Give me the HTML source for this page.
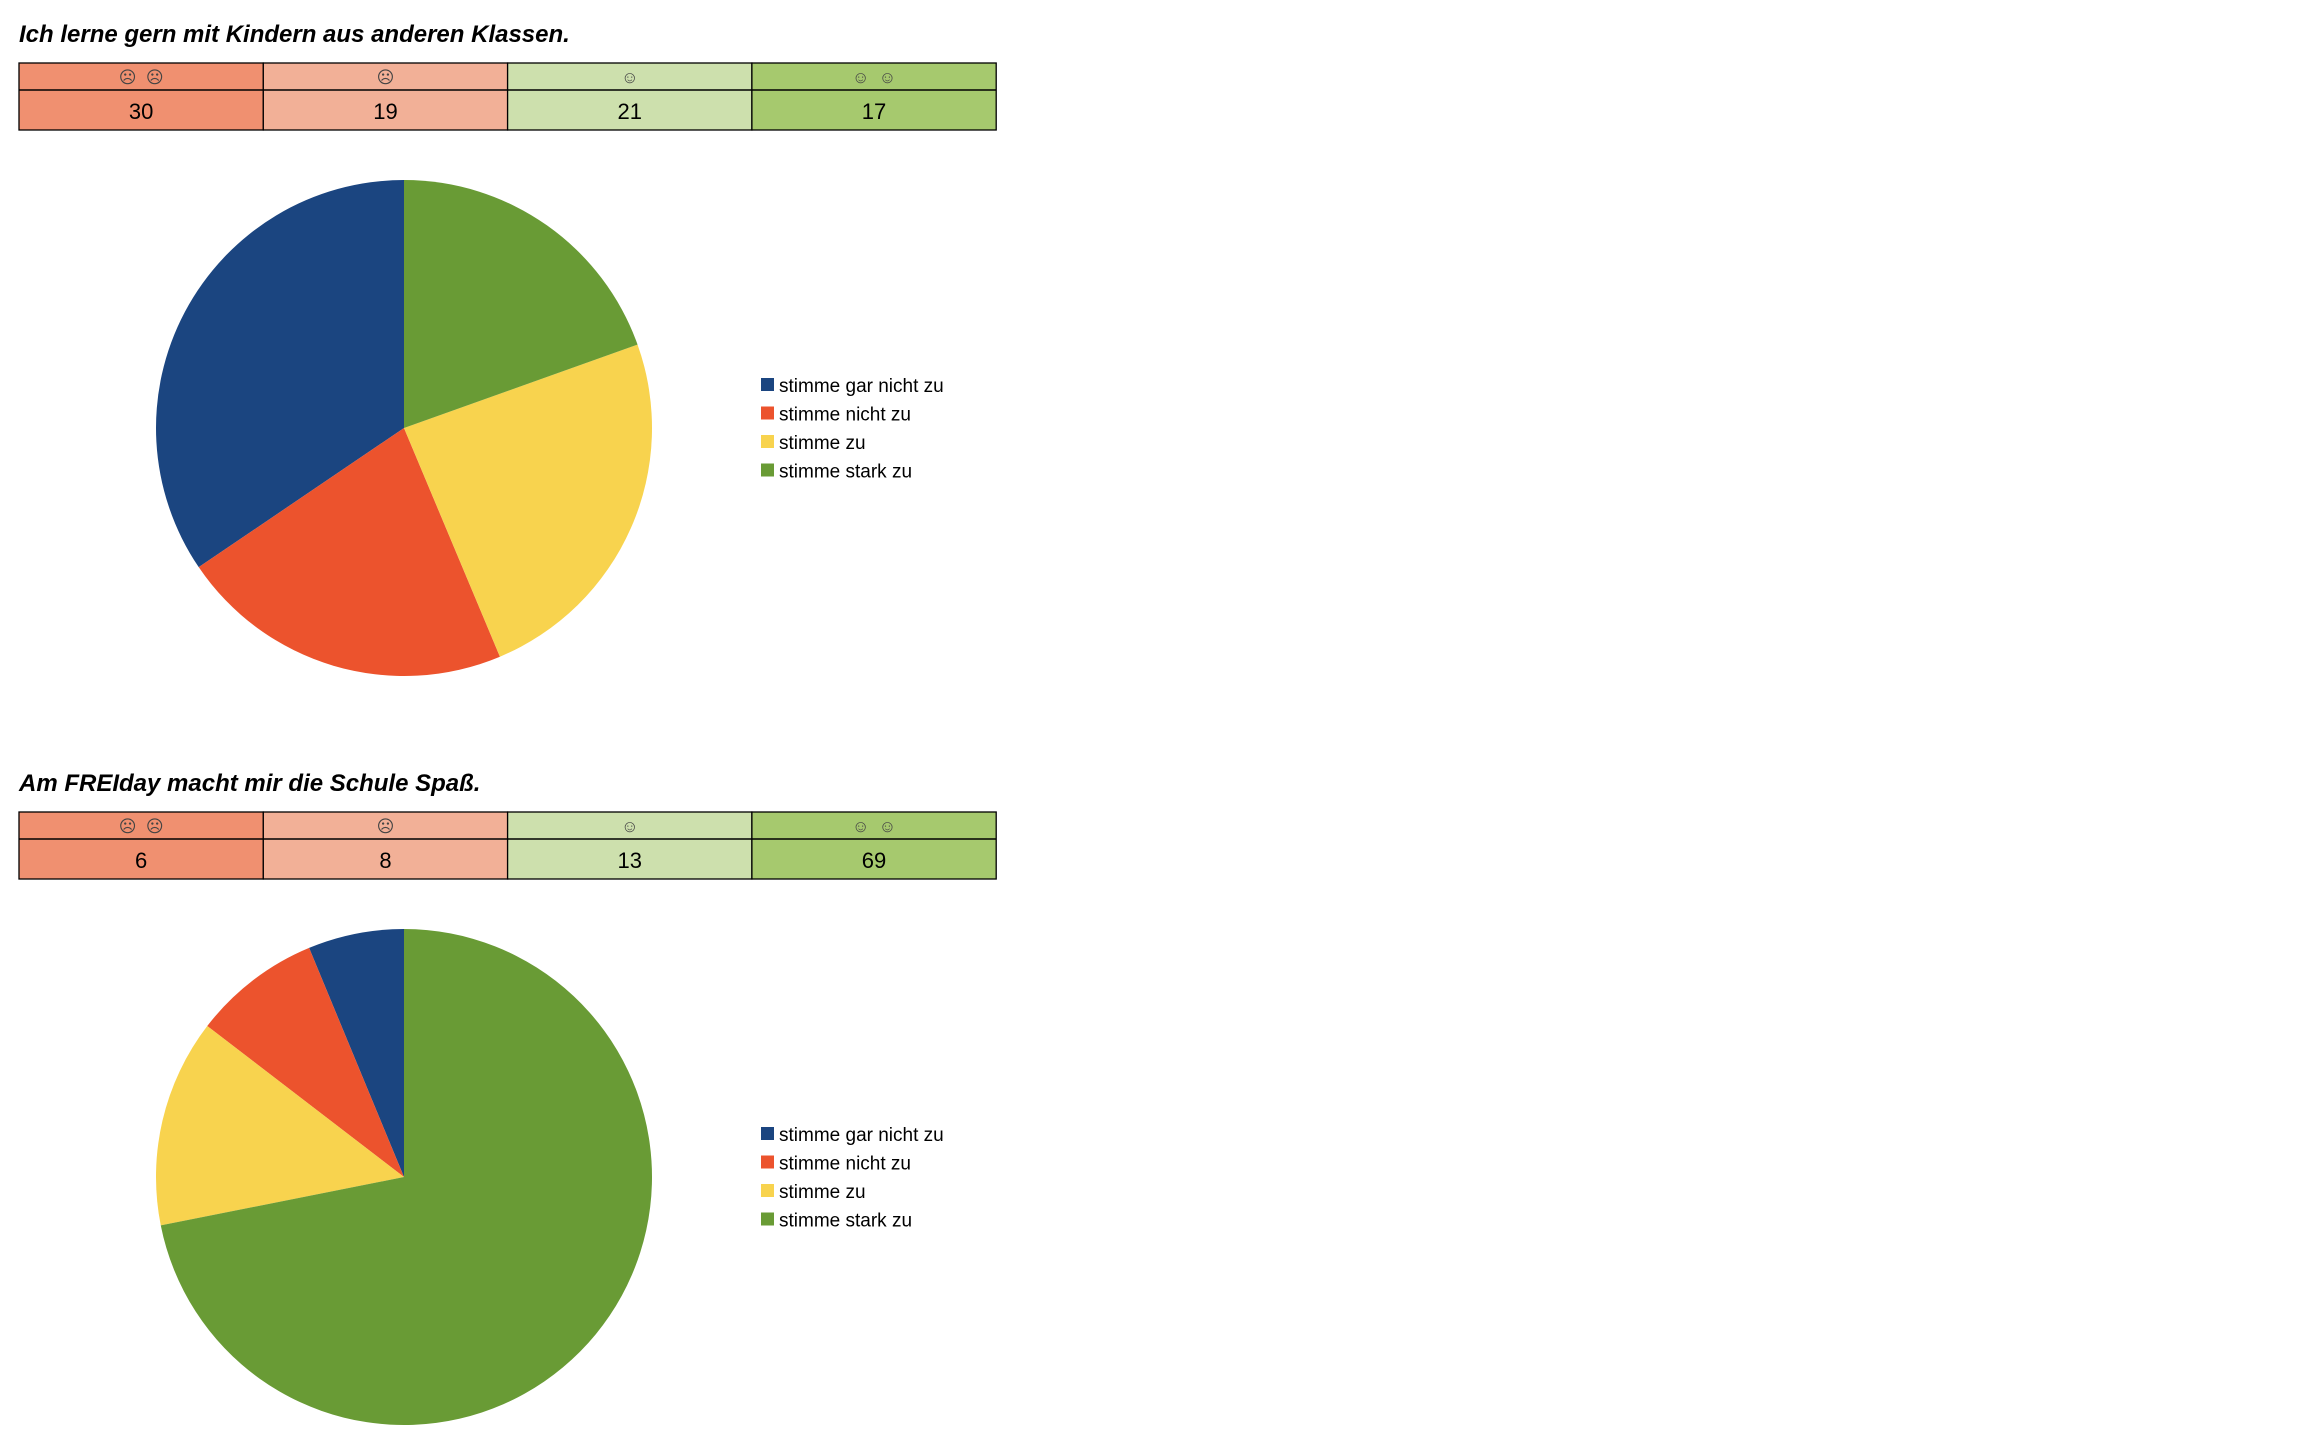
<!DOCTYPE html>
<html><head><meta charset="utf-8"><style>
html,body{margin:0;padding:0;background:#fff;width:2306px;height:1432px;overflow:hidden}
svg{display:block}
text{font-family:"Liberation Sans",sans-serif}
</style></head><body>
<svg id="root" width="2306" height="1432" viewBox="0 0 2306 1432"></svg>
<script>
const categories=["stimme gar nicht zu","stimme nicht zu","stimme zu","stimme stark zu"];
const titles=["Ich lerne gern mit Kindern aus anderen Klassen.","Am FREIday macht mir die Schule Spaß."];
const valuesQ1=[30,19,21,17];
const valuesQ2=[6,8,13,69];
const faces=["☹  ☹","☹","☺","☺  ☺"];
const sliceColors=["#1b4580","#ec532d","#f8d34e","#699b35"];
const cellColors=["#f09070","#f2b097","#cde0ad","#a6c96e"];
const NS="http://www.w3.org/2000/svg";
const root=document.getElementById('root');
function mk(tag,attrs,parent){const e=document.createElementNS(NS,tag);for(const k in attrs)e.setAttribute(k,attrs[k]);(parent||root).appendChild(e);return e;}
function angleScale(v,total){return v/total*2*Math.PI;}
function drawBlock(idx,values,y0){
  const g=mk('g',{});
  
  
  const t=mk('text',{x:19,y:y0+42,'font-size':24,'font-weight':'bold','font-style':'italic',fill:'#000'},g);
  t.textContent=titles[idx];
  
  
  const tx=19,tw=244.3,ty=y0+63,h1=27,h2=40;
  for(let i=0;i<4;i++){
    const x=tx+i*tw;
    const c=mk('rect',{x:x,y:ty,width:tw,height:h1+h2,fill:cellColors[i],stroke:'#000','stroke-width':1.3},g);
    
    
    const f=mk('text',{x:x+tw/2,y:ty+20,'font-size':17,'text-anchor':'middle',fill:'#444','font-family':'DejaVu Sans'},g);
    f.textContent=faces[i];f.setAttribute('xml:space','preserve');f.style.whiteSpace='pre';
    
    
    const n=mk('text',{x:x+tw/2,y:ty+h1+29,'font-size':22,'text-anchor':'middle',fill:'#000'},g);
    n.textContent=values[i];
    
    
  }
  mk('line',{x1:tx,x2:tx+4*tw,y1:ty+h1,y2:ty+h1,stroke:'#000','stroke-width':1.5},g);
  const cx=404,cy=y0+428,r=248;
  const total=values.reduce((a,b)=>a+b,0);
  let a=0;
  for(let i=0;i<values.length;i++){
    const da=angleScale(values[i],total);
    const a1=a+da;
    const x0=cx-r*Math.sin(a),yA=cy-r*Math.cos(a);
    const x1=cx-r*Math.sin(a1),yB=cy-r*Math.cos(a1);
    const large=da>Math.PI?1:0;
    const p=mk('path',{d:`M${cx},${cy} L${x0},${yA} A${r},${r} 0 ${large} 0 ${x1},${yB} Z`,fill:sliceColors[i]},g);
    
    
    a=a1;
  }
  for(let i=0;i<categories.length;i++){
    const ly=y0+385+i*28.5;
    const s=mk('rect',{x:761,y:ly-7,width:13,height:13,fill:sliceColors[i]},g);
    
    
    const lt=mk('text',{x:779,y:ly+7,'font-size':19,fill:'#000'},g);
    lt.textContent=categories[i];
    
    
  }
}
drawBlock(0,valuesQ1,0);
drawBlock(1,valuesQ2,749);
</script>
</body></html>
